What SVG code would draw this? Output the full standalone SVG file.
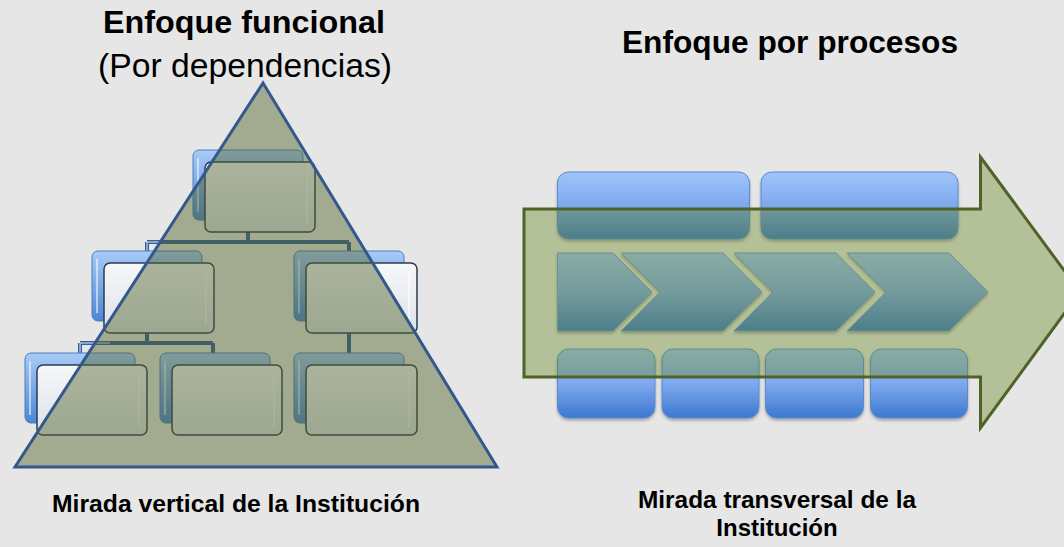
<svg xmlns="http://www.w3.org/2000/svg" width="1064" height="547" viewBox="0 0 1064 547">
  <defs>
    <linearGradient id="gFront" x1="0" y1="0" x2="0" y2="1">
      <stop offset="0" stop-color="#f6f7f9"/>
      <stop offset="1" stop-color="#dde1e8"/>
    </linearGradient>
    <linearGradient id="gBack" x1="0" y1="0" x2="0" y2="1">
      <stop offset="0" stop-color="#a8cbf8"/>
      <stop offset="1" stop-color="#4b86d5"/>
    </linearGradient>
    <linearGradient id="gBlue" x1="0" y1="0" x2="0" y2="1">
      <stop offset="0" stop-color="#a0c5fb"/>
      <stop offset="0.5" stop-color="#7ea9ee"/>
      <stop offset="1" stop-color="#3c78ce"/>
    </linearGradient>
    <filter id="shadow" x="-10%" y="-10%" width="120%" height="130%">
      <feDropShadow dx="0" dy="2" stdDeviation="1.5" flood-color="#000" flood-opacity="0.3"/>
    </filter>
    <style>
      .title { font-family: "Liberation Sans", Arial, sans-serif; font-weight: bold; font-size: 31px; fill: #000; text-anchor: middle; }
      .sub { font-family: "Liberation Sans", Arial, sans-serif; font-size: 33px; fill: #000; text-anchor: middle; }
      .cap { font-family: "Liberation Sans", Arial, sans-serif; font-weight: bold; font-size: 24px; fill: #000; text-anchor: middle; }
      .back { fill: url(#gBack); stroke: #4a7ebb; stroke-width: 1; }
      .front { fill: url(#gFront); stroke: #2c3c4c; stroke-width: 1.5; }
      .bevel { fill: none; stroke: #ffffff; stroke-opacity: 0.7; stroke-width: 1.5; }
      .conn { fill: none; stroke: #355f96; stroke-width: 4; }
      .connIn { fill: none; stroke: #e4ecf7; stroke-width: 1; }
      .pbox { fill: url(#gBlue); stroke: #5b8bd0; stroke-width: 1; filter: url(#shadow); }
      .chev { fill: url(#gBlue); stroke: #6f98d8; stroke-width: 1; filter: url(#shadow); }
    </style>
  </defs>

  <rect x="0" y="0" width="1064" height="547" fill="#e6e6e6"/>

  <!-- Titles -->
  <g id="title-left">
    <text class="title" x="244" y="33" textLength="282" lengthAdjust="spacingAndGlyphs">Enfoque funcional</text>
    <text class="sub" x="245" y="77" textLength="294" lengthAdjust="spacingAndGlyphs">(Por dependencias)</text>
  </g>
  <g id="title-right">
    <text class="title" x="790" y="53" textLength="336" lengthAdjust="spacingAndGlyphs">Enfoque por procesos</text>
  </g>

  <!-- Org chart connectors -->
  <g id="connectors">
    <path class="conn" d="M248,232 V242 M147,242 H349 M147,242 V251 M349,242 V251 M147,333 V343 M80,343 H213 M80,343 V353 M213,343 V353 M349,333 V353"/>
    <path class="connIn" d="M147,242 H160 M147,242 V251 M80,343 H110 M80,343 V353"/>
  </g>

  <!-- Org chart nodes -->
  <g id="org-top">
    <rect class="back" x="193" y="150" width="110" height="70" rx="6"/>
    <line class="bevel" x1="198" y1="158" x2="198" y2="212"/>
    <rect class="front" x="205" y="162" width="110" height="70" rx="6"/>
    <line class="bevel" x1="307" y1="170" x2="307" y2="224"/>
  </g>
  <g id="org-mid-left">
    <rect class="back" x="92" y="251" width="110" height="70" rx="6"/>
    <line class="bevel" x1="97" y1="259" x2="97" y2="313"/>
    <rect class="front" x="104" y="263" width="110" height="70" rx="6"/>
    <line class="bevel" x1="206" y1="271" x2="206" y2="325"/>
  </g>
  <g id="org-mid-right">
    <rect class="back" x="294" y="251" width="110" height="70" rx="6"/>
    <line class="bevel" x1="299" y1="259" x2="299" y2="313"/>
    <rect class="front" x="306" y="263" width="111" height="70" rx="6"/>
    <line class="bevel" x1="409" y1="271" x2="409" y2="325"/>
  </g>
  <g id="org-bot-left">
    <rect class="back" x="25" y="353" width="110" height="70" rx="6"/>
    <line class="bevel" x1="30" y1="361" x2="30" y2="415"/>
    <rect class="front" x="37" y="365" width="110" height="70" rx="6"/>
    <line class="bevel" x1="139" y1="373" x2="139" y2="427"/>
  </g>
  <g id="org-bot-mid">
    <rect class="back" x="160" y="353" width="110" height="70" rx="6"/>
    <line class="bevel" x1="165" y1="361" x2="165" y2="415"/>
    <rect class="front" x="172" y="365" width="110" height="70" rx="6"/>
    <line class="bevel" x1="274" y1="373" x2="274" y2="427"/>
  </g>
  <g id="org-bot-right">
    <rect class="back" x="294" y="353" width="110" height="70" rx="6"/>
    <line class="bevel" x1="299" y1="361" x2="299" y2="415"/>
    <rect class="front" x="306" y="365" width="111" height="70" rx="6"/>
    <line class="bevel" x1="409" y1="373" x2="409" y2="427"/>
  </g>

  <!-- Pyramid overlay -->
  <g id="pyramid">
    <polygon points="263,83 497,467 15,467" fill="#4f6228" fill-opacity="0.45" stroke="#33598c" stroke-width="3" stroke-linejoin="miter"/>
  </g>

  <!-- Process boxes -->
  <g id="proc-top-1"><rect class="pbox" x="557.5" y="172" width="192" height="67" rx="11"/></g>
  <g id="proc-top-2"><rect class="pbox" x="761" y="172" width="197" height="67" rx="11"/></g>

  <g id="chevron-1"><polygon class="chev" points="557.5,253 613,253 652,292 613,331 557.5,331"/></g>
  <g id="chevron-2"><polygon class="chev" points="621,253 723,253 762,292 723,331 621,331 660,292"/></g>
  <g id="chevron-3"><polygon class="chev" points="734,253 836,253 875,292 836,331 734,331 773,292"/></g>
  <g id="chevron-4"><polygon class="chev" points="847,253 949,253 988,292 949,331 847,331 886,292"/></g>

  <g id="proc-bot-1"><rect class="pbox" x="557.5" y="349" width="97.5" height="69" rx="11"/></g>
  <g id="proc-bot-2"><rect class="pbox" x="662" y="349" width="97" height="69" rx="11"/></g>
  <g id="proc-bot-3"><rect class="pbox" x="765.5" y="349" width="98" height="69" rx="11"/></g>
  <g id="proc-bot-4"><rect class="pbox" x="870.5" y="349" width="97" height="69" rx="11"/></g>

  <!-- Big arrow overlay -->
  <g id="arrow">
    <polygon points="524,209 980.5,209 980.5,157 1080,292 980.5,428 980.5,377 524,377" fill="#668723" fill-opacity="0.4" stroke="#4f6228" stroke-width="3" stroke-linejoin="miter"/>
  </g>

  <!-- Captions -->
  <g id="caption-left">
    <text class="cap" x="236" y="512" textLength="368" lengthAdjust="spacingAndGlyphs">Mirada vertical de la Institución</text>
  </g>
  <g id="caption-right">
    <text class="cap" x="777" y="508" textLength="278" lengthAdjust="spacingAndGlyphs">Mirada transversal de la</text>
    <text class="cap" x="777" y="536">Institución</text>
  </g>
</svg>
